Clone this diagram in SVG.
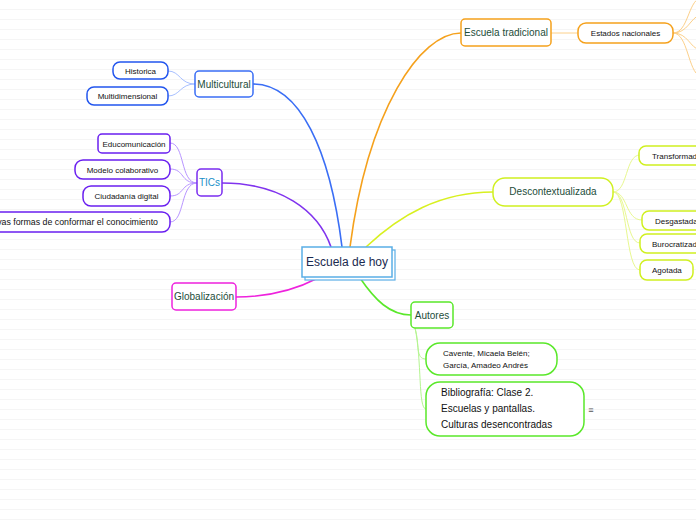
<svg xmlns="http://www.w3.org/2000/svg" width="696" height="520" viewBox="0 0 696 520">
<defs>
<pattern id="lines" width="10" height="10" patternUnits="userSpaceOnUse">
<rect width="10" height="10" fill="#ffffff"/>
<rect y="9" width="10" height="1" fill="#f5f5f5"/>
</pattern>
</defs>
<style>
text{font-family:"Liberation Sans","DejaVu Sans",sans-serif;}
.t{fill:#1d4d3a;font-size:10px;}
.s{fill:#111;font-size:8px;}
.main{fill:none;stroke-width:1.6;}
.sub{fill:none;stroke-width:1;}
.box{fill:#fff;stroke-width:1.5;}
</style>
<rect width="696" height="520" fill="url(#lines)"/>
<g id="connectors">
<path class="main" stroke="#f5a11c" d="M350,247 C368,110 420,33 461,33"/>
<path class="main" stroke="#3a6ef5" d="M342,247 C330,150 300,84 253,84"/>
<path class="main" stroke="#8033ee" d="M331,247 C318,210 280,183 222,183"/>
<path class="main" stroke="#d8f020" d="M366,247 C400,215 440,192 493,192"/>
<path class="main" stroke="#ee22dd" d="M318,278 C295,290 270,297 236,297"/>
<path class="main" stroke="#5ae82a" d="M360,278 C375,300 390,315 411,315"/>
<path class="sub" stroke="#fcd08a" d="M551,33 L578,33"/>
<path class="sub" stroke="#fcd08a" d="M673,33 C688,33 688,2 700,-2"/>
<path class="sub" stroke="#fcd08a" d="M673,33 C688,33 690,18 700,15"/>
<path class="sub" stroke="#fcd08a" d="M673,33 C688,33 690,48 700,50"/>
<path class="sub" stroke="#fcd08a" d="M673,33 C688,33 688,72 700,76"/>
<path class="sub" stroke="#a8c0ff" d="M195,84 C180,84 180,71 168,71"/>
<path class="sub" stroke="#a8c0ff" d="M195,84 C180,84 180,96 168,96"/>
<path class="sub" stroke="#b895ff" d="M197,183 C180,183 185,143 170,143"/>
<path class="sub" stroke="#b895ff" d="M197,183 C180,183 185,169 170,169"/>
<path class="sub" stroke="#b895ff" d="M197,183 C180,183 185,196 170,196"/>
<path class="sub" stroke="#b895ff" d="M197,183 C180,183 185,222 170,222"/>
<path class="sub" stroke="#e8f890" d="M613,192 C628,192 625,155 640,155"/>
<path class="sub" stroke="#e8f890" d="M613,192 C628,192 625,220 642,220"/>
<path class="sub" stroke="#e8f890" d="M613,192 C628,192 625,243 640,243"/>
<path class="sub" stroke="#e8f890" d="M613,192 C628,192 625,270 640,270"/>
<path class="sub" stroke="#b4f590" d="M415,328 C420,345 415,359 426,359"/>
<path class="sub" stroke="#b4f590" d="M415,328 C422,360 418,409 426,409"/>
</g>
<g id="center">
<rect x="305" y="250" width="90" height="30" fill="#fff" stroke="#5aaee6" stroke-width="1.2"/>
<rect x="302" y="247" width="90" height="30" fill="#fff" stroke="#5aaee6" stroke-width="1.5"/>
<text x="347" y="266" text-anchor="middle" font-size="12" fill="#1a2a50">Escuela de hoy</text>
</g>
<g id="escuela-tradicional">
<rect class="box" x="461" y="19" width="90" height="27" rx="4" stroke="#f5a11c"/>
<text class="t" x="506" y="36" text-anchor="middle">Escuela tradicional</text>
</g>
<g id="estados-nacionales">
<rect class="box" x="578" y="23" width="95" height="20" rx="8" stroke="#f5a11c"/>
<text class="s" x="625.5" y="36" text-anchor="middle">Estados nacionales</text>
</g>
<g id="multicultural">
<rect class="box" x="195" y="71" width="58" height="26" rx="4" stroke="#3a6ef5"/>
<text class="t" x="224" y="88" text-anchor="middle">Multicultural</text>
</g>
<g id="historica">
<rect class="box" x="113" y="62" width="55" height="17" rx="7" stroke="#2255ee"/>
<text class="s" x="140.5" y="73.5" text-anchor="middle">Historica</text>
</g>
<g id="multidimensional">
<rect class="box" x="87" y="87" width="81" height="18" rx="7" stroke="#2255ee"/>
<text class="s" x="127.5" y="99" text-anchor="middle">Multidimensional</text>
</g>
<g id="tics">
<rect class="box" x="197" y="169" width="25" height="27" rx="4" stroke="#7a2cf0"/>
<text x="209.5" y="186" text-anchor="middle" font-size="10" fill="#1a8fc8">TICs</text>
</g>
<g id="educomunicacion">
<rect class="box" x="98" y="134" width="72" height="19" rx="4" stroke="#6a1ff0"/>
<text class="s" x="134" y="146.5" text-anchor="middle">Educomunicación</text>
</g>
<g id="modelo-colaborativo">
<rect class="box" x="75" y="160" width="95" height="19" rx="8" stroke="#6a1ff0"/>
<text class="s" x="122.5" y="172.5" text-anchor="middle">Modelo colaborativo</text>
</g>
<g id="ciudadania-digital">
<rect class="box" x="83" y="186" width="87" height="20" rx="8" stroke="#6a1ff0"/>
<text class="s" x="126.5" y="199" text-anchor="middle">Ciudadanía digital</text>
</g>
<g id="nuevas-formas">
<rect class="box" x="-30" y="212" width="200" height="20" rx="8" stroke="#6a1ff0"/>
<text class="s" x="158" y="225" text-anchor="end" style="font-size:8.8px">Nuevas formas de conformar el conocimiento</text>
</g>
<g id="globalizacion">
<rect class="box" x="172" y="283" width="64" height="27" rx="4" stroke="#ee22dd"/>
<text class="t" x="204" y="300" text-anchor="middle">Globalización</text>
</g>
<g id="descontextualizada">
<rect class="box" x="493" y="178" width="120" height="28" rx="12" stroke="#d0f020"/>
<text class="t" x="553" y="195" text-anchor="middle">Descontextualizada</text>
</g>
<g id="transforma">
<rect class="box" x="639" y="146" width="80" height="19" rx="7" stroke="#d0f020"/>
<text class="s" x="652" y="158.5">Transformada</text>
</g>
<g id="desgastada">
<rect class="box" x="642" y="211" width="80" height="19" rx="7" stroke="#d0f020"/>
<text class="s" x="655" y="223.5">Desgastada</text>
</g>
<g id="burocratizada">
<rect class="box" x="640" y="234" width="80" height="19" rx="7" stroke="#d0f020"/>
<text class="s" x="652" y="246.5">Burocratizada</text>
</g>
<g id="agotada">
<rect class="box" x="640" y="260" width="53" height="20" rx="7" stroke="#d0f020"/>
<text class="s" x="652" y="273">Agotada</text>
</g>
<g id="autores">
<rect class="box" x="411" y="302" width="42" height="26" rx="4" stroke="#5ae82a"/>
<text class="t" x="432" y="319" text-anchor="middle">Autores</text>
</g>
<g id="cavente">
<rect class="box" x="426" y="343" width="131" height="32" rx="14" stroke="#5ae82a"/>
<text class="s" x="443" y="356">Cavente, Micaela Belén;</text>
<text class="s" x="443" y="368">García, Amadeo Andrés</text>
</g>
<g id="bibliografia">
<rect class="box" x="426" y="382" width="158" height="54" rx="14" stroke="#5ae82a"/>
<text x="441" y="396" font-size="10" fill="#111">Bibliografía: Clase 2.</text>
<text x="441" y="412" font-size="10" fill="#111">Escuelas y pantallas.</text>
<text x="441" y="428" font-size="10" fill="#111">Culturas desencontradas</text>
<text x="591" y="413" font-size="9" fill="#555" text-anchor="middle">≡</text>
</g>
</svg>
